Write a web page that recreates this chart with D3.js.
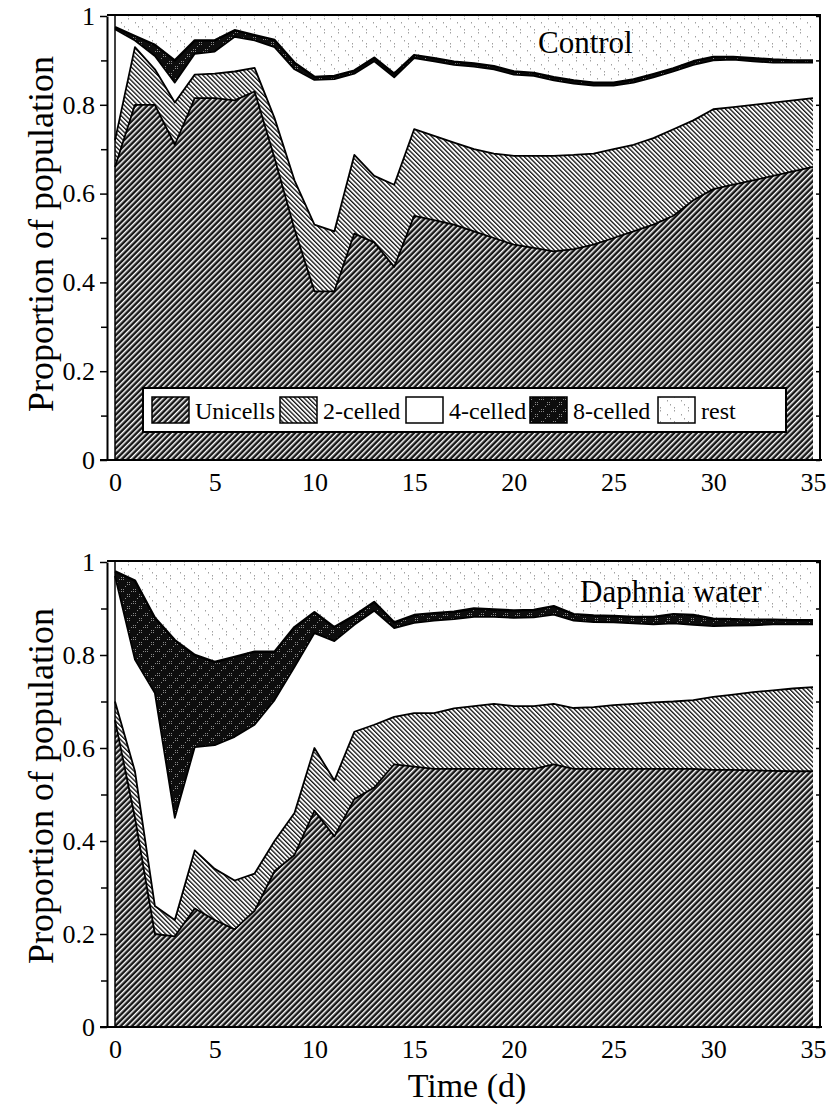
<!DOCTYPE html>
<html>
<head>
<meta charset="utf-8">
<script src="https://cdn.jsdelivr.net/npm/d3@7"></script>
<style>
  body { margin: 0; background: #fff; }
  text { font-family: "Liberation Serif", "Times New Roman", serif; fill: #000; }
</style>
</head>
<body>
<div id="chart"></div>
<script>
// Chart Data (proportion of population per class)
const days = [0,1,2,3,4,5,6,7,8,9,10,11,12,13,14,15,16,17,18,19,20,21,22,23,24,25,26,27,28,29,30,31,32,33,34,35];
const classes = ["Unicells", "2-celled", "4-celled", "8-celled", "rest"];
const xTicks = [0, 5, 10, 15, 20, 25, 30, 35];
const yTicks = [0, 0.2, 0.4, 0.6, 0.8, 1];
const yMinorTicks = [0.1, 0.3, 0.5, 0.7, 0.9];

// Control
const controlUnicells = [0.66,0.80,0.80,0.71,0.815,0.815,0.81,0.83,0.68,0.52,0.38,0.38,0.51,0.49,0.435,0.55,0.54,0.53,0.515,0.50,0.485,0.478,0.47,0.475,0.485,0.50,0.515,0.53,0.55,0.585,0.61,0.62,0.63,0.64,0.65,0.66];
const control2celled = [0.06,0.13,0.08,0.095,0.053,0.055,0.065,0.053,0.09,0.11,0.15,0.135,0.177,0.15,0.185,0.195,0.19,0.185,0.185,0.19,0.20,0.207,0.215,0.212,0.205,0.20,0.195,0.195,0.195,0.18,0.18,0.175,0.17,0.165,0.16,0.155];
const control4celled = [0.25,0.015,0.03,0.045,0.047,0.05,0.078,0.062,0.16,0.25,0.326,0.343,0.183,0.258,0.242,0.16,0.168,0.175,0.186,0.19,0.183,0.18,0.17,0.161,0.153,0.143,0.14,0.137,0.13,0.125,0.11,0.107,0.098,0.09,0.085,0.08];
const control8celled = [0.005,0.01,0.025,0.05,0.03,0.025,0.015,0.012,0.016,0.015,0.007,0.007,0.007,0.008,0.008,0.007,0.007,0.007,0.007,0.007,0.007,0.007,0.007,0.007,0.007,0.007,0.007,0.007,0.007,0.008,0.008,0.006,0.007,0.007,0.005,0.005];
const controlRest = [0.025,0.045,0.065,0.10,0.055,0.055,0.032,0.043,0.054,0.105,0.137,0.135,0.123,0.094,0.13,0.088,0.095,0.103,0.107,0.113,0.125,0.128,0.138,0.145,0.15,0.15,0.143,0.131,0.118,0.102,0.092,0.092,0.095,0.098,0.10,0.10];

// Daphnia water
const daphniaUnicells = [0.66,0.45,0.20,0.195,0.255,0.23,0.21,0.25,0.335,0.37,0.465,0.41,0.49,0.515,0.565,0.56,0.555,0.555,0.555,0.555,0.555,0.555,0.565,0.555,0.555,0.555,0.555,0.555,0.555,0.555,0.553,0.553,0.552,0.551,0.55,0.55];
const daphnia2celled = [0.04,0.10,0.06,0.035,0.125,0.11,0.105,0.08,0.065,0.09,0.135,0.12,0.145,0.135,0.102,0.115,0.12,0.13,0.135,0.14,0.135,0.135,0.13,0.131,0.133,0.137,0.14,0.143,0.145,0.148,0.157,0.162,0.168,0.173,0.178,0.181];
const daphnia4celled = [0.27,0.24,0.458,0.22,0.222,0.266,0.309,0.32,0.303,0.314,0.247,0.30,0.23,0.245,0.191,0.194,0.199,0.192,0.192,0.187,0.19,0.191,0.192,0.188,0.183,0.178,0.173,0.168,0.168,0.162,0.152,0.148,0.144,0.142,0.138,0.135];
const daphnia8celled = [0.01,0.17,0.162,0.382,0.198,0.179,0.172,0.157,0.104,0.086,0.045,0.03,0.02,0.019,0.012,0.017,0.016,0.016,0.018,0.016,0.016,0.016,0.018,0.014,0.014,0.014,0.014,0.016,0.02,0.021,0.016,0.014,0.012,0.01,0.009,0.009];
const daphniaRest = [0.02,0.04,0.12,0.168,0.20,0.215,0.204,0.193,0.193,0.14,0.108,0.14,0.115,0.086,0.13,0.114,0.11,0.107,0.10,0.102,0.104,0.103,0.095,0.112,0.115,0.116,0.118,0.118,0.112,0.114,0.122,0.123,0.124,0.124,0.125,0.125];

// Define the Size of the SVG Container
const width = 826;
const height = 1108;

const svg = d3.select("#chart")
  .append("svg")
  .attr("width", width)
  .attr("height", height);

// Define Fill Patterns for Each Class
const defs = svg.append("defs");

const uniPat = defs.append("pattern")
  .attr("id", "pat-Unicells")
  .attr("patternUnits", "userSpaceOnUse")
  .attr("width", 4).attr("height", 4)
  .attr("patternTransform", "rotate(45)");
uniPat.append("rect").attr("width", 4).attr("height", 4).attr("fill", "#161616");
uniPat.append("rect").attr("width", 1.5).attr("height", 4).attr("fill", "#fff");

const twoPat = defs.append("pattern")
  .attr("id", "pat-2-celled")
  .attr("patternUnits", "userSpaceOnUse")
  .attr("width", 3.2).attr("height", 3.2)
  .attr("patternTransform", "rotate(-45)");
twoPat.append("rect").attr("width", 3.2).attr("height", 3.2).attr("fill", "#fff");
twoPat.append("rect").attr("width", 1.3).attr("height", 3.2).attr("fill", "#111");

const fourPat = defs.append("pattern")
  .attr("id", "pat-4-celled")
  .attr("patternUnits", "userSpaceOnUse")
  .attr("width", 4).attr("height", 4);
fourPat.append("rect").attr("width", 4).attr("height", 4).attr("fill", "#fff");

const eightPat = defs.append("pattern")
  .attr("id", "pat-8-celled")
  .attr("patternUnits", "userSpaceOnUse")
  .attr("width", 12).attr("height", 12);
eightPat.append("rect").attr("width", 12).attr("height", 12).attr("fill", "#0d0d0d");
[[1, 1], [3, 1], [1, 3], [3, 3], [7, 6], [9, 6], [7, 8], [9, 8], [5, 10], [11, 3]].forEach(p => {
  eightPat.append("rect").attr("x", p[0]).attr("y", p[1]).attr("width", 1).attr("height", 1).attr("fill", "#8a8a8a");
});

const restPat = defs.append("pattern")
  .attr("id", "pat-rest")
  .attr("patternUnits", "userSpaceOnUse")
  .attr("width", 14).attr("height", 14);
restPat.append("rect").attr("width", 14).attr("height", 14).attr("fill", "#fff");
[[2, 1], [2, 4], [9, 8], [12, 12]].forEach(p => {
  restPat.append("rect").attr("x", p[0]).attr("y", p[1]).attr("width", 1).attr("height", 1.5).attr("fill", "#a0a0a0");
});

// Define X Scale (shared by both panels)
const xScale = d3.scaleLinear()
  .domain([0, 35])
  .range([115, 813]);

// Build Rows for d3.stack
function buildRows(uni, two, four, eight, rest) {
  return days.map((d, i) => ({
    day: d,
    "Unicells": uni[i],
    "2-celled": two[i],
    "4-celled": four[i],
    "8-celled": eight[i],
    "rest": rest[i]
  }));
}

const stack = d3.stack().keys(classes);

// Draw One Panel
function drawPanel(rows, yBottom, yTop, title, titleX, titleY, titleCenter) {
  const yScale = d3.scaleLinear()
    .domain([0, 1])
    .range([yBottom, yTop]);

  const g = svg.append("g");
  const series = stack(rows);

  // Background (rest class fills up to 1)
  g.append("rect")
    .attr("x", xScale(0))
    .attr("y", yScale(1))
    .attr("width", xScale(35) - xScale(0))
    .attr("height", yScale(0) - yScale(1))
    .attr("fill", "url(#pat-rest)");

  const area = d3.area()
    .x(d => xScale(d.data.day))
    .y0(d => yScale(d[0]))
    .y1(d => yScale(Math.min(d[1], 1)));

  g.selectAll("path.layer")
    .data(series.slice(0, 4))
    .enter()
    .append("path")
    .attr("class", "layer")
    .attr("d", area)
    .attr("fill", d => "url(#pat-" + d.key + ")");

  // Boundary Lines between Classes
  const line = d3.line()
    .x(d => xScale(d.data.day))
    .y(d => yScale(Math.min(d[1], 1)));

  g.selectAll("path.edge")
    .data(series.slice(0, 4))
    .enter()
    .append("path")
    .attr("class", "edge")
    .attr("d", line)
    .attr("fill", "none")
    .attr("stroke", "#000")
    .attr("stroke-width", (d, i) => i === 3 ? 2.4 : 1.8)
    .attr("stroke-linejoin", "round");

  // Frame
  g.append("line").attr("x1", xScale(0)).attr("x2", xScale(0)).attr("y1", yTop - 1).attr("y2", yBottom)
    .attr("stroke", "#000").attr("stroke-width", 1.5);
  g.append("rect").attr("x", xScale(35)).attr("y", yTop - 1).attr("width", 820 - xScale(35)).attr("height", yBottom - yTop + 1)
    .attr("fill", "#fff");
  g.append("line").attr("x1", 107).attr("x2", 821).attr("y1", yTop - 1).attr("y2", yTop - 1)
    .attr("stroke", "#000").attr("stroke-width", 2);
  g.append("line").attr("x1", 820).attr("x2", 820).attr("y1", yTop - 1).attr("y2", yBottom)
    .attr("stroke", "#000").attr("stroke-width", 2);

  // Y Axis (major ticks with labels, minor ticks without)
  const yAxis = g.append("g")
    .attr("transform", "translate(107,0)")
    .call(d3.axisLeft(yScale)
      .tickValues(yTicks)
      .tickSize(7)
      .tickSizeOuter(0)
      .tickPadding(5)
      .tickFormat(d => (d === 0 || d === 1) ? String(d) : d.toFixed(1)));
  yAxis.select(".domain").attr("stroke-width", 2);
  yAxis.selectAll(".tick line").attr("stroke-width", 1.5);
  yAxis.selectAll("text").style("font-size", "26px");

  g.append("g")
    .attr("transform", "translate(107,0)")
    .call(d3.axisLeft(yScale).tickValues(yMinorTicks).tickSize(6).tickFormat(""))
    .call(a => a.select(".domain").remove())
    .selectAll(".tick line").attr("stroke-width", 1.5);

  // Right side inward ticks
  g.append("g")
    .attr("transform", "translate(820,0)")
    .call(d3.axisRight(yScale).tickValues(yTicks.concat(yMinorTicks)).tickSize(-4).tickFormat(""))
    .call(a => a.select(".domain").remove())
    .selectAll(".tick line").attr("stroke-width", 1.5);

  // X Axis
  const xAxis = g.append("g")
    .attr("transform", "translate(0," + yBottom + ")")
    .call(d3.axisBottom(xScale)
      .tickValues(xTicks)
      .tickSize(0)
      .tickPadding(13));
  xAxis.select(".domain").remove();
  xAxis.selectAll("text").style("font-size", "26px");
  g.append("line").attr("x1", 100).attr("x2", 822).attr("y1", yBottom).attr("y2", yBottom)
    .attr("stroke", "#000").attr("stroke-width", 2);

  // Y Axis Title
  g.append("text")
    .attr("transform", "translate(53," + titleCenter + ") rotate(-90)")
    .attr("text-anchor", "middle")
    .style("font-size", "36px")
    .text("Proportion of population");

  // Panel Title
  g.append("text")
    .attr("x", titleX)
    .attr("y", titleY)
    .style("font-size", "31px")
    .text(title);

  return g;
}

const controlRows = buildRows(controlUnicells, control2celled, control4celled, control8celled, controlRest);
const daphniaRows = buildRows(daphniaUnicells, daphnia2celled, daphnia4celled, daphnia8celled, daphniaRest);

const topPanel = drawPanel(controlRows, 460, 16, "Control", 538, 53, 234);
drawPanel(daphniaRows, 1027, 562, "Daphnia water", 580, 602, 786);

// Legend in Top Panel
const legend = topPanel.append("g");
legend.append("rect")
  .attr("x", 143).attr("y", 388)
  .attr("width", 643).attr("height", 44)
  .attr("fill", "#fff")
  .attr("stroke", "#000")
  .attr("stroke-width", 2);

const legendX = [152, 280, 406, 530, 658];
classes.forEach((c, i) => {
  legend.append("rect")
    .attr("x", legendX[i]).attr("y", 397)
    .attr("width", 37).attr("height", 26)
    .attr("fill", "url(#pat-" + c + ")")
    .attr("stroke", "#000")
    .attr("stroke-width", 1.5);
  legend.append("text")
    .attr("x", legendX[i] + 43)
    .attr("y", 419)
    .style("font-size", "24px")
    .text(c);
});

// X Axis Title
svg.append("text")
  .attr("x", 467)
  .attr("y", 1097)
  .attr("text-anchor", "middle")
  .style("font-size", "34px")
  .text("Time (d)");
</script>
</body>
</html>
